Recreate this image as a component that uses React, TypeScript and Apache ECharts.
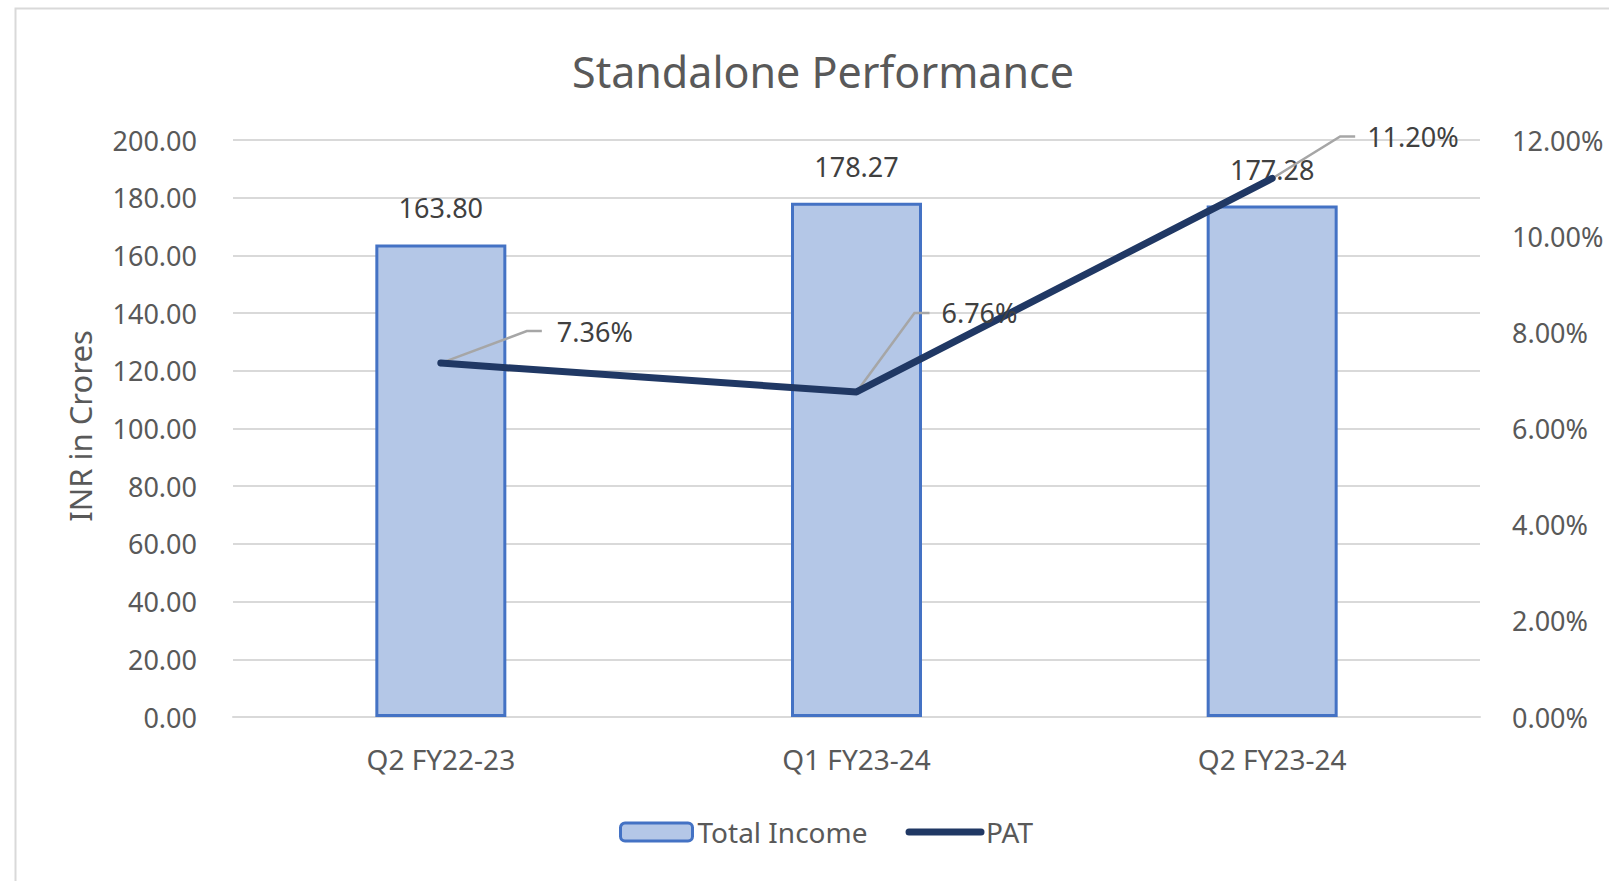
import React, { useEffect, useRef } from "react";
import * as echarts from "echarts";

// ---- data ----
const categories = ["Q2 FY22-23", "Q1 FY23-24", "Q2 FY23-24"];
const totalIncome = [163.8, 178.27, 177.28];
const pat = [7.36, 6.76, 11.2];
const leftAxis = { min: 0, max: 200, interval: 20 };
const rightAxis = { min: 0, max: 12, interval: 2 };

// ---- layout of the PAT data labels (offsets from the point, px) ----
const PAT_LABEL_OFFSETS = [
  { dx: 116, dy: -32, elbow: 86 },
  { dx: 85, dy: -79, elbow: 58 },
  { dx: 95, dy: -42, elbow: 68 },
];
const LEADER_TAIL = 15;

const FONT = "'Noto Sans', 'Open Sans', sans-serif";
const AXIS_COLOR = "#595959";
const LABEL_COLOR = "#404040";
const GRID_COLOR = "#d9d9d9";
const LINE_COLOR = "#203864";

export default function App() {
  const ref = useRef<HTMLDivElement>(null);

  useEffect(() => {
    if (!ref.current) return;
    const chart = echarts.init(ref.current, undefined, { renderer: "svg" });
    const option: any = {
      animation: false,
      backgroundColor: "#ffffff",
      textStyle: { fontFamily: FONT },
      title: {
        text: "Standalone Performance",
        left: 823,
        textAlign: "center",
        top: 50,
        padding: 0,
        textStyle: { fontFamily: FONT, fontSize: 43, fontWeight: "normal", color: AXIS_COLOR },
      },
      graphic: [
        {
          type: "rect",
          left: 13,
          top: 6,
          shape: { width: 1700, height: 1000 },
          style: { fill: "none", stroke: GRID_COLOR, lineWidth: 2 },
          silent: true,
          z: -10,
        },
        {
          type: "text",
          x: 80,
          y: 426,
          rotation: Math.PI / 2,
          style: {
            text: "INR in Crores",
            fontFamily: FONT,
            fontSize: 31,
            fill: AXIS_COLOR,
            textAlign: "center",
            textVerticalAlign: "middle",
          },
        },
      ],
      legend: {
        left: 619,
        top: 818,
        padding: 0,
        itemWidth: 72,
        itemHeight: 18,
        itemGap: 38,
        textStyle: { fontFamily: FONT, fontSize: 28, color: AXIS_COLOR },
        data: [
          { name: "Total Income", itemStyle: { borderWidth: 3, borderColor: "#4472C4", color: "#B4C7E7" } },
          { name: "PAT", itemStyle: { opacity: 0 }, lineStyle: { width: 7, cap: "round" } },
        ],
      },
      grid: { left: 233, right: 129, top: 140, bottom: 164, containLabel: false },
      xAxis: {
        type: "category",
        data: categories,
        axisLine: { show: true, lineStyle: { color: GRID_COLOR, width: 2 } },
        axisTick: { show: false },
        axisLabel: { color: AXIS_COLOR, fontFamily: FONT, fontSize: 28, margin: 28 },
      },
      yAxis: [
        {
          type: "value",
          min: leftAxis.min,
          max: leftAxis.max,
          interval: leftAxis.interval,
          axisLine: { show: false },
          axisTick: { show: false },
          splitLine: { show: true, lineStyle: { color: GRID_COLOR, width: 2 } },
          axisLabel: {
            color: AXIS_COLOR,
            fontFamily: FONT,
            fontSize: 27,
            margin: 36,
            padding: [0, 0, 7, 0],
            formatter: (v: number) => v.toFixed(2),
          },
        },
        {
          type: "value",
          min: rightAxis.min,
          max: rightAxis.max,
          interval: rightAxis.interval,
          position: "right",
          axisLine: { show: false },
          axisTick: { show: false },
          splitLine: { show: false },
          axisLabel: {
            color: AXIS_COLOR,
            fontFamily: FONT,
            fontSize: 27,
            margin: 32,
            padding: [0, 0, 7, 0],
            formatter: (v: number) => v.toFixed(2) + "%",
          },
        },
      ],
      series: [
        {
          name: "Total Income",
          type: "bar",
          data: totalIncome,
          barWidth: 131,
          itemStyle: { color: "#B4C7E7", borderColor: "#4472C4", borderWidth: 3 },
          label: {
            show: true,
            position: "top",
            distance: 23,
            color: LABEL_COLOR,
            fontFamily: FONT,
            fontSize: 27,
            formatter: (p: any) => Number(p.value).toFixed(2),
          },
          z: 2,
        },
        {
          name: "PAT leaders",
          type: "custom",
          yAxisIndex: 1,
          data: pat.map((v, i) => [i, v]),
          encode: { x: 0, y: 1 },
          silent: true,
          renderItem: (params: any, api: any) => {
            const o = PAT_LABEL_OFFSETS[params.dataIndex];
            const p = api.coord([api.value(0), api.value(1)]);
            return {
              type: "polyline",
              shape: {
                points: [
                  [p[0], p[1]],
                  [p[0] + o.elbow, p[1] + o.dy],
                  [p[0] + o.elbow + LEADER_TAIL, p[1] + o.dy],
                ],
              },
              style: { stroke: "#a6a6a6", lineWidth: 2.5, fill: "none" },
            };
          },
          z: 3,
        },
        {
          name: "PAT",
          type: "line",
          yAxisIndex: 1,
          data: pat,
          symbol: "circle",
          symbolSize: 6,
          showSymbol: true,
          itemStyle: { color: LINE_COLOR },
          lineStyle: { color: LINE_COLOR, width: 7, cap: "round", join: "round" },
          label: {
            show: true,
            color: LABEL_COLOR,
            fontFamily: FONT,
            fontSize: 27,
            formatter: (p: any) => Number(p.value).toFixed(2) + "%",
          },
          labelLayout: (params: any) => {
            const o = PAT_LABEL_OFFSETS[params.dataIndex] || { dx: 0, dy: -30 };
            const cx = params.rect.x + params.rect.width / 2;
            const cy = params.rect.y + params.rect.height / 2;
            return { x: cx + o.dx, y: cy + o.dy, align: "left", verticalAlign: "middle" };
          },
          z: 4,
        },
      ],
    };
    chart.setOption(option);
    return () => chart.dispose();
  }, []);

  return (
    <div
      ref={ref}
      style={{ position: "fixed", left: 0, top: 0, width: 1609, height: 881, background: "#fff" }}
    />
  );
}
